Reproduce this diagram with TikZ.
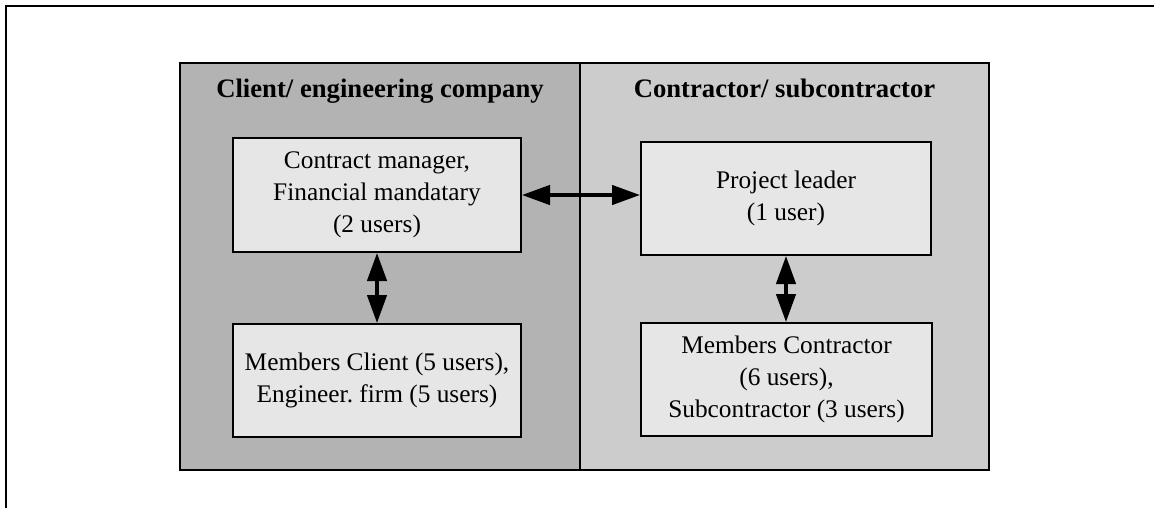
\documentclass[tikz,border=0pt]{standalone}
\usepackage{fontspec}
\setmainfont{Liberation Serif}
\usetikzlibrary{arrows.meta}
\frenchspacing
\definecolor{clientgray}{HTML}{B3B3B3}
\definecolor{contrgray}{HTML}{CCCCCC}
\definecolor{boxgray}{HTML}{E6E6E6}
\tikzset{
  panel/.style={draw=black, line width=1.2pt},
  rolebox/.style={draw=black, line width=1.5pt, fill=boxgray, inner sep=0pt,
    align=center, font=\fontsize{19}{24}\selectfont},
  header/.style={anchor=base, font=\fontsize{20}{24}\selectfont\bfseries},
  link/.style={line width=2.5pt,
    {Triangle[length=21pt, width=14.5pt]}-{Triangle[length=21pt, width=14.5pt]}}
}
\begin{document}
\begin{tikzpicture}[x=0.75pt, y=-0.75pt]
  \useasboundingbox (0,0) rectangle (1154,508);
  % outer frame (top and left edges)
  \draw[line width=1.6pt] (6,508) -- (6,6) -- (1154,6);
  % the two party panels
  \draw[panel, fill=clientgray] (180,63) rectangle (580,470);
  \draw[panel, fill=contrgray] (580,63) rectangle (989,470);
  \node[header] (hclient) at (380,97) {Client/ engineering company};
  \node[header] (hcontr) at (784.5,97) {Contractor/ subcontractor};
  % role boxes
  \node[rolebox, minimum width=216pt, minimum height=85.5pt] (cm) at (377,195)
    {Contract manager,\\ Financial mandatary\\ (2 users)};
  \node[rolebox, minimum width=217.5pt, minimum height=84.75pt] (pl) at (786,198.5)
    {Project leader\\ (1 user)};
  \node[rolebox, minimum width=216pt, minimum height=84.75pt] (mc) at (377,380.5)
    {Members Client (5 users),\\ Engineer. firm (5 users)};
  \node[rolebox, minimum width=218pt, minimum height=84.75pt] (mk) at (786.5,379.5)
    {Members Contractor\\ (6 users),\\ Subcontractor (3 users)};
  % communication links
  \draw[link] (cm.east) -- (cm.east -| pl.west);
  \draw[link] (cm.south) -- (mc.north);
  \draw[link] (pl.south) -- (pl.south |- mk.north);
\end{tikzpicture}
\end{document}
